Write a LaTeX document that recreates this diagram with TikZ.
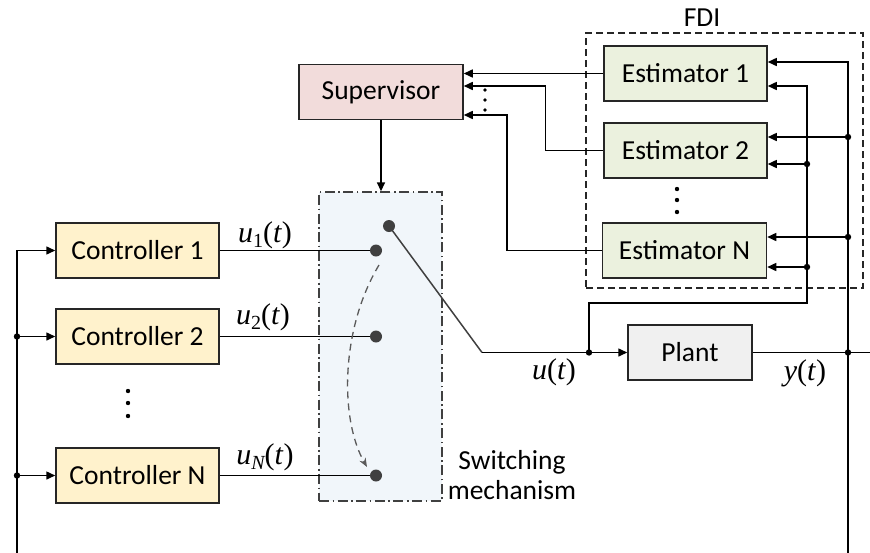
\documentclass[tikz,border=0pt]{standalone}
\usepackage[no-math]{fontspec}
\setmainfont{Carlito}
\newfontfamily\tms{Liberation Serif}
\usetikzlibrary{arrows.meta}

\definecolor{supfill}{RGB}{242,220,219}
\definecolor{estfill}{RGB}{235,241,222}
\definecolor{ctrlfill}{RGB}{255,242,204}
\definecolor{plantfill}{RGB}{240,240,240}
\definecolor{swfill}{RGB}{241,246,250}
\definecolor{edge}{RGB}{38,38,38}
\definecolor{contactgray}{RGB}{64,64,64}
\definecolor{arcgray}{RGB}{90,90,90}

% signal name such as u_1(t), set in a Times-like italic with a lowered index
\newcommand\signame[2]{\itshape #1\raisebox{-5pt}{\fontsize{20}{20}\selectfont #2}\upshape(\itshape t\/\upshape)}

\begin{document}
\begin{tikzpicture}[x=1pt,y=-1pt,
  font=\fontsize{27.5}{30}\selectfont,
  block/.style={draw=edge,line width=1.5pt,minimum height=55pt,inner sep=0pt,anchor=center},
  wire/.style={line width=1.5pt},
  arr/.style={wire,-{Triangle[length=9pt,width=8pt]}},
  contact/.style={fill=contactgray},
  lever/.style={line width=1.5pt,draw=contactgray},
  mathlbl/.style={font=\tms\fontsize{30}{32}\selectfont,inner sep=0pt},
  fdibox/.style={draw=edge,line width=1.4pt,dash pattern=on 7pt off 4pt},
  swbox/.style={draw=contactgray,fill=swfill,line width=1.4pt,
    dash pattern=on 10pt off 3.5pt on 1.6pt off 3.5pt},
  sweep/.style={line width=1.3pt,draw=arcgray,dash pattern=on 7pt off 5pt,
    -{Stealth[length=9pt,width=7pt]}},
]
\clip (0,0) rectangle (870,552);

% fault detection and isolation group
\node[fdibox,minimum width=277pt,minimum height=255pt,inner sep=0pt] (fdi) at (724.5,160.5) {};
\node (fdilbl) at (702,18) {FDI};

% switching mechanism
\node[swbox,minimum width=123pt,minimum height=309pt,inner sep=0pt] (sw) at (380.5,346.5) {};
\node[align=center,font=\fontsize{27.5}{30.5}\selectfont] (swlbl) at (512,475) {Switching\\mechanism};

% blocks
\node[block,fill=supfill,minimum width=164pt] (sup) at (381,92) {Supervisor};
\node[block,fill=estfill,minimum width=163pt] (e1) at (685.5,73.5) {Estimator 1};
\node[block,fill=estfill,minimum width=163pt] (e2) at (685.5,150.5) {Estimator 2};
\node[block,fill=estfill,minimum width=164pt] (eN) at (684.5,250.5) {Estimator N};
\node[block,fill=ctrlfill,minimum width=163pt] (c1) at (137.5,250.5) {Controller 1};
\node[block,fill=ctrlfill,minimum width=163pt] (c2) at (137.5,336.5) {Controller 2};
\node[block,fill=ctrlfill,minimum width=163pt] (cN) at (137.5,475.5) {Controller N};
\node[block,fill=plantfill,minimum width=124pt] (plant) at (690,352.5) {Plant};

% ellipses
\foreach \yy in {391,403,416} \fill (128,\yy) circle (2.2pt);
\foreach \yy in {189,200,212} \fill (677,\yy) circle (2.2pt);
\foreach \yy in {90,100,110} \fill (485,\yy) circle (1.8pt);

% estimator residuals to the supervisor
\draw[arr] (e1.west) -- (sup.east |- e1.west);
\draw[arr] (e2.west) -- ++(-58,0) |- ([yshift=6pt]sup.east);
\draw[arr] (eN.west) -- ++(-95,0) |- ([yshift=-23pt]sup.east);

% supervisor command to the switch
\draw[arr] (sup.south) -- (sup.south |- sw.north);

% switch contacts
\coordinate (k1) at (376,250.5);
\coordinate (k2) at (376,336.5);
\coordinate (kN) at (376,475.5);
\coordinate (piv) at (389,226);
\coordinate (kink) at (482,352.5);
\draw[wire] (c1.east) -- (k1);
\draw[wire] (c2.east) -- (k2);
\draw[wire] (cN.east) -- (kN);
\node[mathlbl] (u1lbl) at (265,235) {\signame{u}{\upshape 1}};
\node[mathlbl] (u2lbl) at (263,317) {\signame{u}{\upshape 2}};
\node[mathlbl] (uNlbl) at (265,457) {\signame{u}{N}};
\coordinate (a0) at (379,265);
\coordinate (a1) at (367,467);
\draw[sweep] (a0) .. controls (340,330) and (340,420) .. (a1);
\draw[lever] (piv) -- (kink);
\foreach \c in {k1,k2,kN,piv} \fill[contact] (\c) circle (6pt);

% control input to the plant
\coordinate (ju) at (589,352.5);
\draw[arr] (kink) -- (plant.west);
\node[mathlbl] (ulbl) at (554,372) {\signame{u}{}};

% u(t) fed to the estimators
\coordinate (ubus) at (807,303);
\coordinate (u2) at (807,164);
\coordinate (uN) at (807,267);
\draw[arr] (ju) |- (ubus) |- ([yshift=-12.5pt]e1.east);
\draw[arr] (u2) -- (u2 -| e2.east);
\draw[arr] (uN) -- (uN -| eN.east);

% plant output
\coordinate (yj) at (848,352.5);
\coordinate (y2) at (848,137);
\coordinate (yN) at (848,237);
\draw[wire] (plant.east) -- (880,352.5);
\node[mathlbl] (ylbl) at (805,373) {\signame{y}{}};
\draw[arr] (yj) |- ([yshift=11.5pt]e1.east);
\draw[arr] (y2) -- (y2 -| e2.east);
\draw[arr] (yN) -- (yN -| eN.east);

% feedback to the controllers
\coordinate (fbr) at (848,560);
\coordinate (fbl) at (17,560);
\coordinate (f2) at (17,336.5);
\coordinate (fN) at (17,475.5);
\draw[arr] (yj) -- (fbr) -- (fbl) |- (c1.west);
\draw[arr] (f2) -- (c2.west);
\draw[arr] (fN) -- (cN.west);

% junctions
\foreach \j in {ju,u2,uN,yj,y2,yN,f2,fN} \fill (\j) circle (3.2pt);
\end{tikzpicture}
\end{document}
